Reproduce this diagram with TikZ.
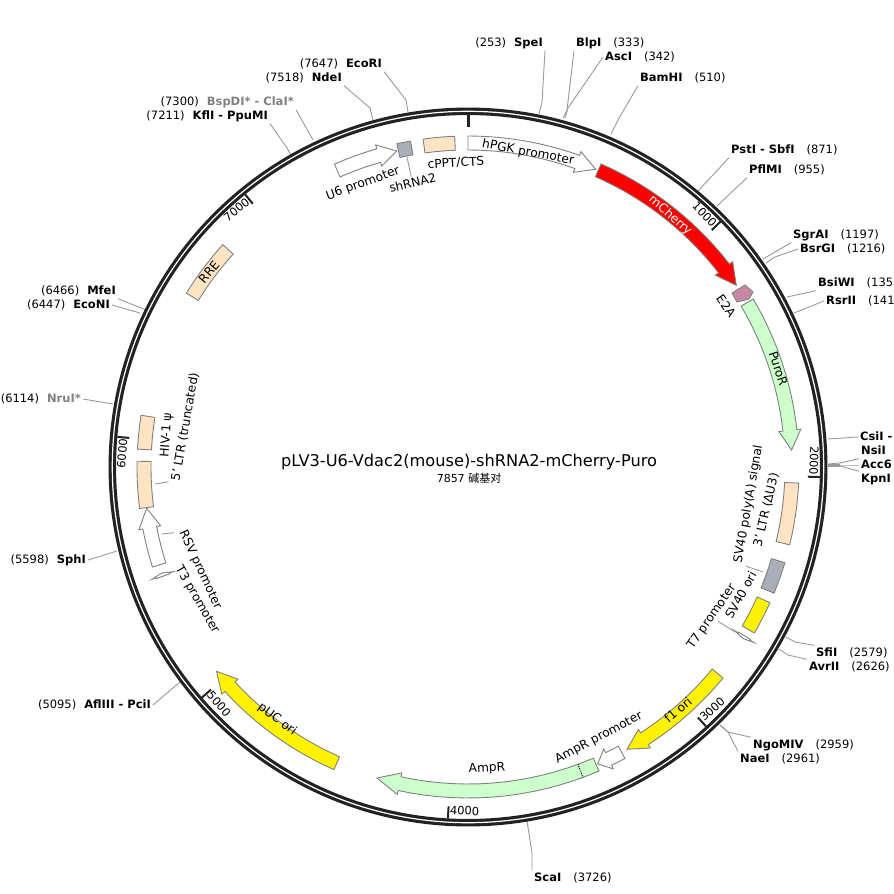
\documentclass[tikz,border=0pt]{standalone}
\usepackage{fontspec}
\setmainfont{DejaVu Sans}
\newfontfamily\cjk{Noto Sans CJK SC}
\usetikzlibrary{positioning}

\definecolor{ringcol}{HTML}{222222}
\definecolor{leadcol}{HTML}{999999}
\definecolor{edgecol}{HTML}{808080}
\definecolor{graytxt}{HTML}{808080}
\definecolor{peach}{HTML}{FFE4C4}
\definecolor{mint}{HTML}{CCFFCC}
\definecolor{slate}{HTML}{A9AEB8}
\definecolor{e2acol}{HTML}{C888A4}

\tikzset{
  every node/.style={font=\fontsize{12.2}{14}\selectfont, text height=8.5, text depth=2.5, inner sep=2, text=black},
  sitelabel/.style={font=\fontsize{11.5}{14}\selectfont, inner sep=2},
  leader/.style={draw=leadcol, line width=0.9},
  feat/.style={draw=edgecol, line width=0.9},
  ticklab/.style={font=\fontsize{11.4}{14}\selectfont, inner sep=0},
}

% boxes and arrows on the band, positions as bearings in degrees
\newcommand{\featbox}[3]{
  \draw[feat,#1] plot[domain=#2:#3,samples=12] ({\x-90}:331)
    -- plot[domain=#3:#2,samples=12] ({\x-90}:317) -- cycle;
}
\newcommand{\featarrow}[4]{
  \draw[feat,#1] plot[domain=#2:#3,samples=16] ({\x-90}:331)
    -- ({#3-90}:335) -- ({#4-90}:324) -- ({#3-90}:313)
    -- plot[domain=#3:#2,samples=16] ({\x-90}:317) -- cycle;
}

\begin{document}
\begin{tikzpicture}[x=1pt, y=-1pt]
  \useasboundingbox (0,0) rectangle (894,894);
  \clip (0,0) rectangle (894,894);

  \coordinate (centre) at (468,467);

  % sites with the name first
  \foreach \id/\nm/\pos/\col/\x/\y/\from/\ex/\ey/\rx/\ry in {
    blpi/BlpI/(333)/black/576/43/south west/567/110/563/118,
    asci/AscI/(342)/black/605/57/west/568/108/565/118,
    bamhi/BamHI/(510)/black/640/78/south west/619/118/611/134,
    psti/PstI - SbfI/(871)/black/731/150/south west/698/191/698/191,
    pflmi/PflMI/(955)/black/749/170/south west/717/206/717/206,
    sgrai/SgrAI/(1197)/black/793/235/south west/763/259/763/259,
    bsrgi/BsrGI/(1216)/black/800/249/west/775/257/766/263,
    bsiwi/BsiWI/(1355/black/818/283/south west/787/297/787/297,
    rsrii/RsrII/(141/black/826/301/west/794/313/794/313,
    csii/CsiI -//black/860/437/west/828/439/828/439,
    nsii/NsiI//black/861/451/south west/840/463/828/464,
    acc/Acc6//black/861/465/west/840/465/828/465,
    kpni/KpnI//black/861/479/north west/840/466/828/466,
    sfii/SfiI/(2579)/black/816/653/north west/795/642/786/637,
    avrii/AvrII/(2626)/black/809/667/north west/788/655/779/649,
    ngomiv/NgoMIV/(2959)/black/753/745/north west/728/732/720/725,
    naei/NaeI/(2961)/black/740/759/north west/728/732/720/725,
    scai/ScaI/(3726)/black/534/878/north west/532/853/527/821}
  {
    \node[sitelabel, anchor=west] (\id) at (\x-2,\y) {\textbf{\textcolor{\col}{\nm}}\hspace{12pt}\pos};
    \coordinate (\id ring) at (\rx,\ry);
    \draw[leader] (\id.\from) -- (\ex,\ey) -- (\id ring);
  }

  % sites with the position first
  \foreach \id/\nm/\pos/\col/\x/\y/\from/\ex/\ey/\rx/\ry in {
    spei/SpeI/(253)/black/543/43/south east/542/102/539/114,
    ecori/EcoRI/(7647)/black/382/64/south east/406/100/408/112,
    ndei/NdeI/(7518)/black/342/78/south east/370/108/373/120,
    bspdi/BspDI* - ClaI*/(7300)/graytxt/294/102/south east/313/140/313/140,
    kfli/KflI - PpuMI/(7211)/black/268/116/south east/287/148/291/155,
    mfei/MfeI/(6466)/black/116/291/south east/146/310/146/310,
    econi/EcoNI/(6447)/black/110/305/east/140/313/140/313,
    nrui/NruI*/(6114)/graytxt/81/399/east/113/404/113/404,
    sphi/SphI/(5598)/black/86/560/east/117/551/117/551,
    afliii/AflIII - PciI/(5095)/black/151/705/east/180/682/180/682}
  {
    \node[sitelabel, anchor=east] (\id) at (\x+2,\y) {\pos\hspace{8pt}\textbf{\textcolor{\col}{\nm}}};
    \coordinate (\id ring) at (\rx,\ry);
    \draw[leader] (\id.\from) -- (\ex,\ey) -- (\id ring);
  }
  \draw[leadcol, line width=3] (828,465) -- (840,465);

  % the ring
  \draw[ringcol, line width=7.5] (centre) circle [radius=355.7];
  \draw[white, line width=1.2] (centre) circle [radius=355.7];

  \begin{scope}[shift={(centre)}]
    % ticks
    \draw[ringcol, line width=3] (-90:340) -- (-90:352);
    \foreach \n in {1000,2000,...,7000} {
      \pgfmathsetmacro{\b}{\n/7857*360}
      \pgfmathsetmacro{\rot}{\n>2500 && \n<6500 ? 180-\b : -\b}
      \pgfmathsetmacro{\rotb}{\n==7000 ? 360-\b : \rot}
      \pgfmathsetmacro{\rotc}{\n==6000 ? 360-\b : \rotb}
      \draw[ringcol, line width=2] ({\b-90}:340) -- ({\b-90}:352);
      \node[ticklab, rotate=\rotc] (tick\n) at ({\b-90-2.7}:345) {\n};
    }

    % features
    \featarrow{fill=white}{0}{19.7}{23.2}
    \featarrow{fill=red}{23.7}{52.2}{55.9}
    \featarrow{fill=mint}{59.5}{83.5}{87}
    \featbox{fill=peach}{92.8}{103.6}
    \featbox{fill=slate}{106.8}{112.4}
    \featbox{fill=yellow}{114.2}{120.1}
    \featarrow{fill=white}{121.4}{121.55}{121.95}
    \featarrow{fill=yellow}{129.6}{147}{150.6}
    \featarrow{fill=white}{151.7}{154.3}{156.4}
    \featarrow{fill=mint}{156.7}{192.2}{196.3}
    \draw[densely dotted, line width=0.9] (159.7-90:317) -- (159.7-90:331);
    \featarrow{fill=yellow}{203.9}{227.3}{230.9}
    \featarrow{fill=white}{250.3}{250.45}{250.9}
    \featarrow{fill=white}{252.4}{259.2}{262.7}
    \featbox{fill=peach}{262.8}{271}
    \featbox{fill=peach}{273.1}{279}
    \featbox{fill=peach}{301.7}{312.2}
    \featarrow{fill=white}{336.2}{344}{347.3}
    \featbox{fill=slate}{347.6}{350}
    \featbox{fill=peach}{352.2}{357.7}
  \end{scope}

  % the E2A piece
  \draw[feat, fill=e2acol] (732,293) -- (745,285) -- (753,292) -- (749,299) -- (737,302) -- cycle;

  % short lines from features to their labels
  \coordinate (shrnabox) at (407,157);
  \coordinate (ltrbox) at (155,484);
  \coordinate (rsvbox) at (162,534);
  \coordinate (sv40box) at (763,572);
  \coordinate (t7box) at (735,632);

  % feature names
  \foreach \id/\x/\y/\rot/\txt in {
    hpgk/528/153/-10.5/hPGK promoter,
    cppt/456/164/3/{cPPT/CTS},
    shrna/413/184/14/shRNA2,
    usix/363/184/20/U6 promoter,
    etwoa/725/307/-55/E2A,
    puro/777/369/-72/PuroR,
    polya/749/504/80/SV40 poly(A) signal,
    tltr/767/510/77/3' LTR (ΔU3),
    svori/742/596/61/SV40 ori,
    tseven/712/617/55/T7 promoter,
    fone/679/711/41/f1 ori,
    amprp/599/738/28/AmpR promoter,
    ampr/487/769/3/AmpR,
    puc/277/720/-37/pUC ori,
    rsv/200/570/-65/RSV promoter,
    tthree/197/600/-60/T3 promoter,
    psi/167/435/86/HIV-1 ψ,
    fltr/186/427/80/5' LTR (truncated),
    rre/210/273/50/RRE}
  {
    \node[rotate=\rot] (\id) at (\x,\y) {\txt};
  }
  \node[rotate=-41, text=white] (mcherry) at (670,216) {mCherry};

  \draw[leader] (shrna.north) -- (shrnabox);
  \draw[leader] (fltr.north west) -- (ltrbox);
  \draw[leader] (rsv.south west) -- (rsvbox);
  \draw[leader] (polya.south west) -- (sv40box);
  \draw[leader] (tseven.south) -- (t7box);

  % name and size
  \node[font=\fontsize{16.2}{19}\selectfont] (title) at (469,463) {pLV3-U6-Vdac2(mouse)-shRNA2-mCherry-Puro};
  \node[font=\fontsize{11}{13}\selectfont, below=-1 of title] (size) {7857 {\cjk 碱基对}};
\end{tikzpicture}
\end{document}
